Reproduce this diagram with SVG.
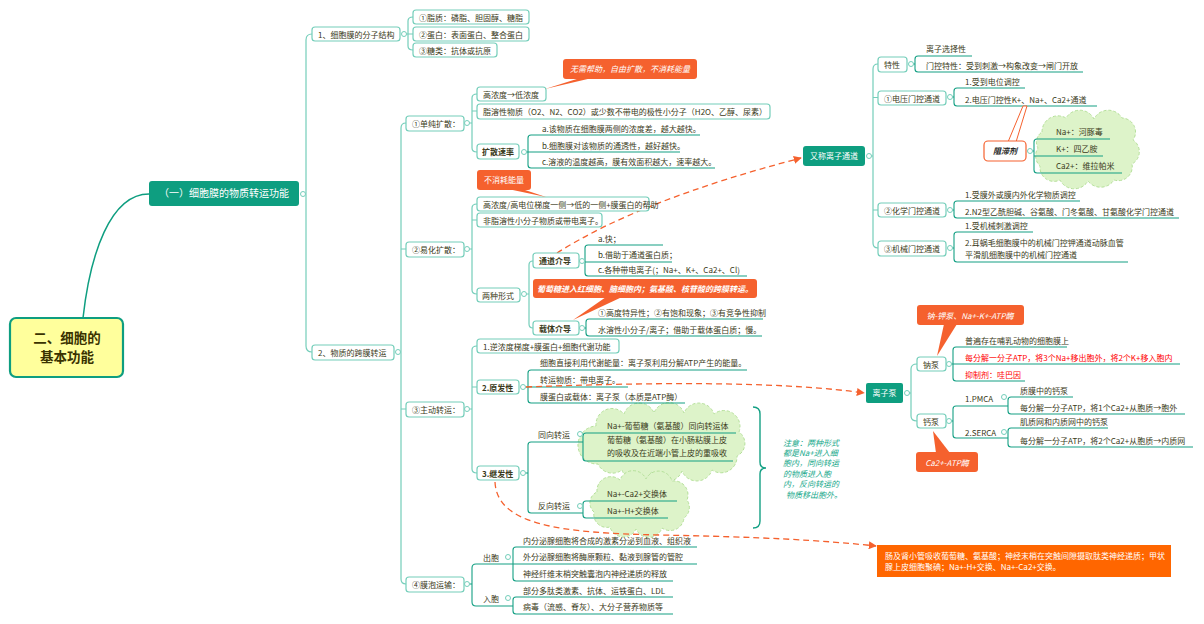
<svg xmlns="http://www.w3.org/2000/svg" width="1204" height="624" viewBox="0 0 1204 624">
<defs>
<style>
.t{font-family:"Noto Sans CJK SC","Noto Sans",sans-serif;font-size:8px;fill:#3a3a20}
.bd{font-weight:bold}
.b{fill:#fff;stroke:#74CEBA;stroke-width:1.2}
.tb{fill:#0E9E80}
.c{fill:none;stroke:#74CEBA;stroke-width:1.2}
.u{fill:none;stroke:#14A084;stroke-width:1.1}
.d{fill:#fff;stroke:#74CEBA;stroke-width:1}
.o{fill:#F5612E}
.w{fill:#fff}
.i{font-style:italic}
.r{fill:#F00}
.dash{fill:none;stroke:#F5612E;stroke-width:1.3;stroke-dasharray:6 4}
.cl{fill:#DDF3C9;stroke:#B5E09A;stroke-width:1;stroke-dasharray:3 2}
.m{text-anchor:middle}
.rt{font-family:"Noto Sans CJK SC","Noto Sans",sans-serif;font-size:13.5px;font-weight:bold;fill:#3a3300;text-anchor:middle}
</style>
<marker id="arr" viewBox="0 0 10 10" refX="9" refY="5" markerWidth="8" markerHeight="8" orient="auto" markerUnits="userSpaceOnUse">
<path d="M0,0 L10,5 L0,10 Z" fill="#F5612E"/>
</marker>
</defs>
<rect width="1204" height="624" fill="#fff"/>

<!-- clouds -->
<g id="clouds">
<path class="cl" d="M596,426 A16,16 0 0 1 624,414 A16,16 0 0 1 654,413 A16,16 0 0 1 684,413 A16,16 0 0 1 714,414 A16,16 0 0 1 739,432 A14,14 0 0 1 737,456 A16,16 0 0 1 712,470 A16,16 0 0 1 682,471 A16,16 0 0 1 652,471 A16,16 0 0 1 622,470 A16,16 0 0 1 598,464 A19,19 0 0 1 596,426 Z"/>
<path class="cl" d="M597,492 A14,14 0 0 1 620,480 A14,14 0 0 1 646,479 A14,14 0 0 1 672,481 A14,14 0 0 1 687,500 A13,13 0 0 1 684,518 A14,14 0 0 1 662,528 A14,14 0 0 1 636,529 A14,14 0 0 1 610,527 A13,13 0 0 1 594,512 A12,12 0 0 1 597,492 Z"/>
<path class="cl" d="M1042,132 A16,16 0 0 1 1066,118 A16,16 0 0 1 1094,119 A16,16 0 0 1 1122,118 A14,14 0 0 1 1133,140 A14,14 0 0 1 1132,164 A14,14 0 0 1 1114,180 A16,16 0 0 1 1088,181 A16,16 0 0 1 1060,180 A14,14 0 0 1 1040,166 A14,14 0 0 1 1038,148 A12,12 0 0 1 1042,132 Z"/>
</g>

<!-- connectors -->
<g id="connectors">
<path d="M83,318 C90,255 110,194 149,194" fill="none" stroke="#0E9E80" stroke-width="1.5"/>
<path class="c" d="M305.5,194 H306 M312,34 Q306,34 306,40 V346 Q306,352 312,352"/>
<path class="c" d="M406.5,34 H408 M413,17 Q408,17 408,21 V46 Q408,50 413,50 M408,34 H413"/>
<path class="c" d="M400.5,352 H401 M406,123 Q401,123 401,128 V579 Q401,584 406,584 M401,249 H406 M401,409 H406"/>
<path class="c" d="M469.5,123 H472 M477,94 Q472,94 472,98 V148 Q472,152 477,152 M472,111 H477"/>
<path class="c" d="M469.5,249 H472 M477,204 Q472,204 472,208 V290 Q472,294 477,294 M472,220 H477"/>
<path class="c" d="M526.5,294 H529 M533,261 Q529,261 529,265 V324 Q529,328 533,328"/>
<path class="c" d="M469.5,409 H472 M477,346 Q472,346 472,350 V469 Q472,473 477,473 M472,387 H477"/>
<path class="u" d="M469.5,584 H472 M513,564 H476 Q472,564 472,568 V602 Q472,606 476,606 H513"/>
<path class="u" d="M700,135 H531 Q528,135 528,138 V165 Q528,168 531,168 H715 M526.5,152 H680"/>
<path class="u" d="M663,245 H588 Q585,245 585,248 V273 Q585,276 588,276 H747 M584.5,262 H672"/>
<path class="u" d="M763,319 H589 Q586,319 586,322 V333 Q586,336 589,336 H762 M584.5,328 H586"/>
<path class="u" d="M747,370 H531 Q528,370 528,373 V400 Q528,403 531,403 H685 M525.5,387 H628"/>
<path class="u" d="M583,442 H531 Q528,442 528,445 V510 Q528,513 531,513 H583 M525.5,473 H528"/>
<path class="u" d="M736,433 H586 Q583,433 583,436 V458 Q583,461 586,461 H733"/>
<path class="u" d="M677,501 H586 Q583,501 583,504 V515 Q583,518 586,518 H668"/>
<path class="u" d="M697,547 H516 Q513,547 513,550 V578 Q513,581 516,581 H673 M513,564 H697"/>
<path class="u" d="M673,597 H516 Q513,597 513,600 V611 Q513,614 516,614 H673"/>
<path class="c" d="M871.5,156 H873 M878,64 Q873,64 873,69 V243 Q873,248 878,248 M873,97.5 H878 M873,210 H878"/>
<path class="u" d="M972,56 H918 Q915,56 915,59 V69 Q915,72 918,72 H1083 M913.5,64 H915"/>
<path class="u" d="M1025,88 H957 Q954,88 954,91 V103 Q954,106 957,106 H1097 M952.5,97 H954"/>
<path class="u" d="M1110,139 H1037 Q1034,139 1034,142 V170 Q1034,173 1037,173 H1122 M1032.5,151 H1034 M1034,156 H1103"/>
<path class="u" d="M1080,201 H957 Q954,201 954,204 V215 Q954,218 957,218 H1179 M952.5,210 H954"/>
<path class="u" d="M1033,232 H957 Q954,232 954,235 V259 Q954,262 957,262 H1128 M952.5,248 H954"/>
<path class="c" d="M909.5,393 H911 M917,364 Q911,364 911,369 V416 Q911,421 917,421"/>
<path class="u" d="M1067,347 H956 Q953,347 953,350 V378 Q953,381 956,381 H1025 M951.5,364 H1180"/>
<path class="u" d="M1008,406 H956 Q953,406 953,409 V435 Q953,438 956,438 H1008 M951.5,421 H953"/>
<path class="u" d="M1073,397 H1011 Q1008,397 1008,400 V411 Q1008,414 1011,414 H1185"/>
<path class="u" d="M1108,428 H1011 Q1008,428 1008,431 V444 Q1008,447 1011,447 H1193"/>
<path d="M753,407 Q760,407 760,414 V462 Q760,468 766,468 Q760,468 760,474 V521 Q760,528 753,528" fill="none" stroke="#14A084" stroke-width="1.4"/>
<path class="dash" d="M557,253 Q640,200 801,158" marker-end="url(#arr)"/>
<path class="dash" d="M526,387 Q760,378 864,393" marker-end="url(#arr)"/>
<path class="dash" d="M495,482 C497,525 560,533 660,535 S820,540 876,546" marker-end="url(#arr)"/>
</g>

<g id="root">
<rect x="10" y="318" width="113" height="59" rx="6" fill="#FFFF9C" stroke="#0E9E80" stroke-width="2.2"/>
<text class="rt" x="67" y="343">二、细胞的</text>
<text class="rt" x="67" y="362">基本功能</text>
</g>

<g id="main">
<rect class="tb" x="149" y="181" width="150" height="25" rx="3"/>
<text class="t m w" x="224" y="197" style="font-size:10px">（一）细胞膜的物质转运功能</text>
<circle class="d" cx="303" cy="194" r="2.5"/>
</g>

<g id="n1">
<rect class="b" x="312" y="27" width="88" height="14" rx="3"/>
<text class="t" x="318" y="37.5">1、细胞膜的分子结构</text>
<circle class="d" cx="404" cy="34" r="2.5"/>
</g>
<g id="n1a"><rect class="b" x="413" y="10" width="116" height="14" rx="3"/><text class="t" x="419" y="20.5">①脂质：磷脂、胆固醇、糖脂</text></g>
<g id="n1b"><rect class="b" x="413" y="27" width="116" height="14" rx="3"/><text class="t" x="419" y="37.5">②蛋白：表面蛋白、整合蛋白</text></g>
<g id="n1c"><rect class="b" x="413" y="43" width="84" height="14" rx="3"/><text class="t" x="419" y="53.5">③糖类：抗体或抗原</text></g>

<g id="n2">
<rect class="b" x="312" y="345" width="82" height="15" rx="3"/>
<text class="t" x="318" y="355.5">2、物质的跨膜转运</text>
<circle class="d" cx="398" cy="352" r="2.5"/>
</g>

<g id="s1"><rect class="b" x="406" y="116" width="58" height="15" rx="3"/><text class="t" x="412" y="126.5">①单纯扩散：</text><circle class="d" cx="467" cy="123" r="2.5"/></g>
<g id="s1a"><rect class="b" x="477" y="87" width="69" height="14" rx="3"/><text class="t" x="483" y="97.5">高浓度→低浓度</text></g>
<g id="s1b"><rect class="b" x="477" y="104" width="293" height="15" rx="3"/><text class="t" x="483" y="114.5">脂溶性物质（O2、N2、CO2）或少数不带电的极性小分子（H2O、乙醇、尿素）</text></g>
<g id="s1c"><rect class="b" x="477" y="144" width="42" height="15" rx="3"/><text class="t bd" x="482" y="154.5">扩散速率</text><circle class="d" cx="524" cy="152" r="2.5"/></g>
<g id="s1c-items">
<text class="t" x="542" y="131.5">a.该物质在细胞膜两侧的浓度差，越大越快。</text>
<text class="t" x="542" y="148.5">b.细胞膜对该物质的通透性，越好越快。</text>
<text class="t" x="542" y="164.5">c.溶液的温度越高，膜有效面积越大，速率越大。</text>
</g>

<g id="s2"><rect class="b" x="406" y="242" width="58" height="15" rx="3"/><text class="t" x="412" y="252.5">②易化扩散：</text><circle class="d" cx="467" cy="249" r="2.5"/></g>
<g id="s2a"><rect class="b" x="477" y="197" width="172" height="14" rx="3"/><text class="t" x="483" y="207.5">高浓度/高电位梯度一侧→低的一侧+膜蛋白的帮助</text></g>
<g id="s2b"><rect class="b" x="477" y="213" width="125" height="14" rx="3"/><text class="t" x="483" y="223.5">非脂溶性小分子物质或带电离子。</text></g>
<g id="s2c"><rect class="b" x="477" y="288" width="43" height="14" rx="3"/><text class="t" x="482" y="298.5">两种形式</text><circle class="d" cx="524" cy="294" r="2.5"/></g>
<g id="s2c1"><rect class="b" x="533" y="253" width="46" height="15" rx="3"/><text class="t bd" x="539" y="263.5">通道介导</text><circle class="d" cx="582" cy="261" r="2.5"/></g>
<g id="s2c1-items">
<text class="t" x="598" y="241.5">a.快；</text>
<text class="t" x="598" y="258">b.借助于通道蛋白质；</text>
<text class="t" x="598" y="272.5">c.各种带电离子(；Na+、K+、Ca2+、Cl)</text>
</g>
<g id="s2c2"><rect class="b" x="533" y="321" width="46" height="14" rx="3"/><text class="t bd" x="539" y="331.5">载体介导</text><circle class="d" cx="582" cy="328" r="2.5"/></g>
<g id="s2c2-items">
<text class="t" x="598" y="315.5">①高度特异性；②有饱和现象；③有竞争性抑制</text>
<text class="t" x="598" y="332.5">水溶性小分子/离子；借助于载体蛋白质；慢。</text>
</g>

<g id="s3"><rect class="b" x="406" y="402" width="58" height="15" rx="3"/><text class="t" x="412" y="412.5">③主动转运：</text><circle class="d" cx="467" cy="409" r="2.5"/></g>
<g id="s3a"><rect class="b" x="477" y="339" width="142" height="14" rx="3"/><text class="t" x="483" y="349.5">1.逆浓度梯度+膜蛋白+细胞代谢功能</text></g>
<g id="s3b"><rect class="b" x="477" y="380" width="42" height="14" rx="3"/><text class="t bd" x="482" y="390.5">2.原发性</text><circle class="d" cx="523" cy="387" r="2.5"/></g>
<g id="s3b-items">
<text class="t" x="540" y="366">细胞直接利用代谢能量：离子泵利用分解ATP产生的能量。</text>
<text class="t" x="540" y="383">转运物质：带电离子。</text>
<text class="t" x="540" y="399.5">膜蛋白或载体：离子泵（本质是ATP酶）</text>
</g>
<g id="s3c"><rect class="b" x="477" y="466" width="42" height="14" rx="3"/><text class="t bd" x="482" y="476.5">3.继发性</text><circle class="d" cx="523" cy="473" r="2.5"/></g>
<g id="s3c1"><text class="t" x="538" y="437.5">同向转运</text><circle class="d" cx="580" cy="434" r="2.5"/></g>
<g id="s3c1-items">
<text class="t" x="607" y="428.5">Na+-葡萄糖（氨基酸）同向转运体</text>
<text class="t" x="607" y="443">葡萄糖（氨基酸）在小肠粘膜上皮</text>
<text class="t" x="607" y="456">的吸收及在近端小管上皮的重吸收</text>
</g>
<g id="s3c2"><text class="t" x="538" y="509">反向转运</text><circle class="d" cx="580" cy="506" r="2.5"/></g>
<g id="s3c2-items">
<text class="t" x="607" y="497">Na+-Ca2+交换体</text>
<text class="t" x="607" y="514">Na+-H+交换体</text>
</g>
<g id="note">
<text class="t i" x="783" y="445.5" style="fill:#16A88A">注意：两种形式</text>
<text class="t i" x="783" y="456" style="fill:#16A88A">都是Na+进入细</text>
<text class="t i" x="783" y="466" style="fill:#16A88A">胞内，同向转运</text>
<text class="t i" x="783" y="476.5" style="fill:#16A88A">的物质进入胞</text>
<text class="t i" x="783" y="487" style="fill:#16A88A">内，反向转运的</text>
<text class="t i" x="786" y="497.5" style="fill:#16A88A">物质移出胞外。</text>
</g>

<g id="s4"><rect class="b" x="406" y="577" width="58" height="15" rx="3"/><text class="t" x="412" y="587.5">④膜泡运输：</text><circle class="d" cx="467" cy="584" r="2.5"/></g>
<g id="s4a"><text class="t" x="483" y="560.5">出胞</text><circle class="d" cx="508" cy="557" r="2.5"/></g>
<g id="s4a-items">
<text class="t" x="523" y="543.5">内分泌腺细胞将合成的激素分泌到血液、组织液</text>
<text class="t" x="523" y="560">外分泌腺细胞将酶原颗粒、黏液到腺管的管腔</text>
<text class="t" x="523" y="577">神经纤维末梢突触囊泡内神经递质的释放</text>
</g>
<g id="s4b"><text class="t" x="483" y="601.5">入胞</text><circle class="d" cx="508" cy="598" r="2.5"/></g>
<g id="s4b-items">
<text class="t" x="523" y="593.5">部分多肽类激素、抗体、运铁蛋白、LDL</text>
<text class="t" x="523" y="610">病毒（流感、脊灰）、大分子营养物质等</text>
</g>

<g id="callout1"><rect class="o" x="563" y="59" width="134" height="20" rx="3"/><polygon class="o" points="580,78 592,78 545,89"/><text class="t w i m" x="630" y="72">无需帮助，自由扩散，不消耗能量</text></g>
<g id="callout2"><rect class="o" x="477" y="170" width="54" height="20" rx="3"/><polygon class="o" points="508,189 522,189 546,197"/><text class="t w m" x="504" y="183">不消耗能量</text></g>
<g id="callout3"><rect class="o" x="533" y="279" width="224" height="19" rx="3"/><polygon class="o" points="606,297 622,297 573,320"/><text class="t w i m bd" x="645" y="292">葡萄糖进入红细胞、脑细胞内；氨基酸、核苷酸的跨膜转运。</text></g>

<g id="ch"><rect class="tb" x="803" y="146" width="62" height="20" rx="3"/><text class="t w m" x="834" y="159">又称离子通道</text><circle class="d" cx="869" cy="156" r="2.5"/></g>
<g id="ch1"><rect class="b" x="878" y="57" width="29" height="15" rx="3"/><text class="t" x="884" y="67.5">特性</text><circle class="d" cx="911" cy="64" r="2.5"/></g>
<g id="ch1-items"><text class="t" x="926" y="52">离子选择性</text><text class="t" x="926" y="68.5">门控特性：受到刺激→构象改变→闸门开放</text></g>
<g id="ch2"><rect class="b" x="878" y="91" width="68" height="14" rx="3"/><text class="t" x="884" y="101.5">①电压门控通道</text><circle class="d" cx="950" cy="97" r="2.5"/></g>
<g id="ch2-items"><text class="t" x="965" y="84.5">1.受到电位调控</text><text class="t" x="965" y="102.5">2.电压门控性K+、Na+、Ca2+通道</text></g>
<g id="blk">
<polygon points="1008,142 1023,106 1027,106 1016,142" fill="#fff" stroke="#F5612E" stroke-width="1"/>
<rect x="984" y="141" width="42" height="20" rx="4" fill="#fff" stroke="#F5612E" stroke-width="1.2"/>
<text class="t i bd m" x="1005" y="154" style="fill:#222">阻滞剂</text>
<circle class="d" cx="1030" cy="151" r="2.5"/>
</g>
<g id="blk-items"><text class="t" x="1056" y="135">Na+：河豚毒</text><text class="t" x="1056" y="152">K+：四乙胺</text><text class="t" x="1056" y="169">Ca2+：维拉帕米</text></g>
<g id="ch3"><rect class="b" x="878" y="203" width="68" height="14" rx="3"/><text class="t" x="884" y="213.5">②化学门控通道</text><circle class="d" cx="950" cy="210" r="2.5"/></g>
<g id="ch3-items"><text class="t" x="965" y="197.5">1.受膜外或膜内外化学物质调控</text><text class="t" x="965" y="214.5">2.N2型乙酰胆碱、谷氨酸、门冬氨酸、甘氨酸化学门控通道</text></g>
<g id="ch4"><rect class="b" x="878" y="241" width="68" height="15" rx="3"/><text class="t" x="884" y="251.5">③机械门控通道</text><circle class="d" cx="950" cy="248" r="2.5"/></g>
<g id="ch4-items"><text class="t" x="965" y="228.5">1.受机械刺激调控</text><text class="t" x="965" y="246">2.耳蜗毛细胞膜中的机械门控钾通道动脉血管</text><text class="t" x="965" y="258">平滑肌细胞膜中的机械门控通道</text></g>

<g id="pump"><rect class="tb" x="866" y="383" width="37" height="20" rx="2"/><text class="t w m" x="884.5" y="396">离子泵</text><circle class="d" cx="907" cy="393" r="2.5"/></g>
<g id="p1"><rect class="b" x="917" y="357" width="29" height="14" rx="3"/><text class="t" x="923" y="367.5">钠泵</text><circle class="d" cx="949" cy="364" r="2.5"/></g>
<g id="p1-items"><text class="t" x="965" y="343.5">普遍存在哺乳动物的细胞膜上</text><text class="t r" x="965" y="360.5">每分解一分子ATP，将3个Na+移出胞外，将2个K+移入胞内</text><text class="t r" x="965" y="377.5">抑制剂：哇巴因</text></g>
<g id="p2"><rect class="b" x="917" y="414" width="29" height="14" rx="3"/><text class="t" x="923" y="424.5">钙泵</text><circle class="d" cx="949" cy="421" r="2.5"/></g>
<g id="p2a"><text class="t" x="965" y="401.5">1.PMCA</text><circle class="d" cx="1004" cy="397" r="2.5"/></g>
<g id="p2a-items"><text class="t" x="1020" y="393.5">质膜中的钙泵</text><text class="t" x="1020" y="410.5">每分解一分子ATP，将1个Ca2+从胞质→胞外</text></g>
<g id="p2b"><text class="t" x="965" y="435.5">2.SERCA</text><circle class="d" cx="1004" cy="432" r="2.5"/></g>
<g id="p2b-items"><text class="t" x="1020" y="424.5">肌质网和内质网中的钙泵</text><text class="t" x="1020" y="443.5">每分解一分子ATP，将2个Ca2+从胞质→内质网</text></g>
<g id="callout4"><rect class="o" x="917" y="305" width="107" height="20" rx="3"/><polygon class="o" points="944,324 957,324 937,356"/><text class="t w i m" x="970" y="318.5">钠-钾泵、Na+-K+-ATP酶</text></g>
<g id="callout5"><rect class="o" x="916" y="452" width="62" height="20" rx="3"/><polygon class="o" points="936,453 950,453 933,431"/><text class="t w i m" x="947" y="465.5">Ca2+-ATP酶</text></g>

<g id="bottombox">
<rect x="877" y="545" width="294" height="32" fill="#FF6600"/>
<text class="t w" x="885" y="558.5">肠及肾小管吸收葡萄糖、氨基酸；神经末梢在突触间隙摄取肽类神经递质；甲状</text>
<text class="t w" x="885" y="569.5">腺上皮细胞聚碘；Na+-H+交换、Na+-Ca2+交换。</text>
</g>
</svg>
